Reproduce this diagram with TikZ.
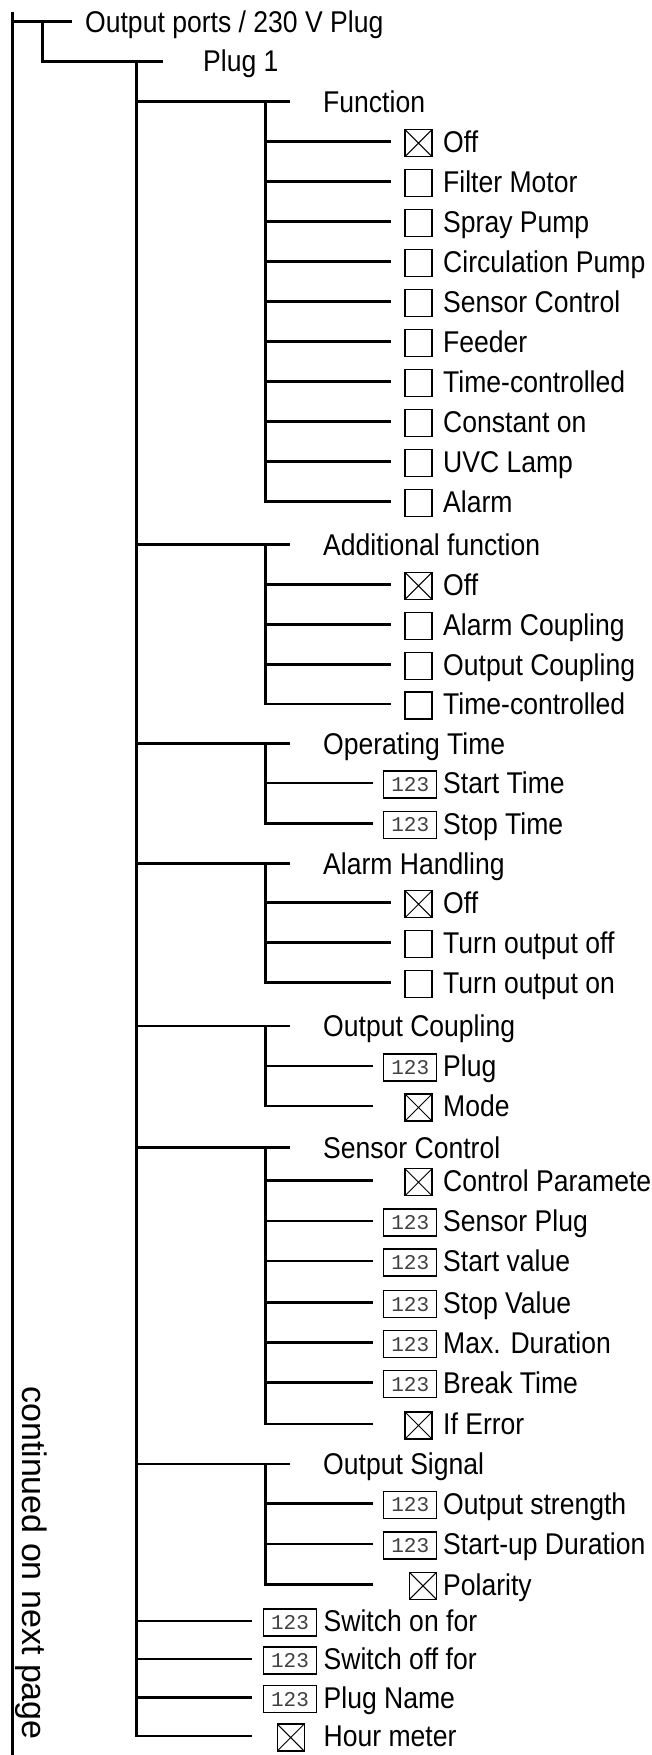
\documentclass[tikz,border=0pt]{standalone}
\usepackage{fontspec}
\setmainfont{Liberation Sans}[FakeStretch=0.885]
\newfontfamily\rotfont{Liberation Sans}
\newfontfamily\numfont{Liberation Mono}
% #1 name, #2 vertical x, #3 y, #4 line end x, #5 box style, #6 box centre x, #7 box text, #8 label x, #9 label
\newcommand\tItem[9]{%
  \coordinate (#1-s) at (#2,#3);
  \coordinate (#1-e) at (#4,#3);
  \draw[tree] (#1-s) -- (#1-e);
  \node[#5] (#1-box) at (#6,#3+1.5) {#7};
  \node[lbl] (#1-t) at (#8,#3+10.8) {#9};
}
% #1 name, #2 y, #3 label
\newcommand\tHdr[3]{%
  \coordinate (#1-s) at (136.7,#2);
  \coordinate (#1-e) at (290,#2);
  \coordinate (#1-j) at (265.7,#2);
  \draw[tree] (#1-s) -- (#1-e);
  \node[lbl] (#1-t) at (323,#2+10.8) {#3};
}
\begin{document}
\begin{tikzpicture}[x=1pt,y=-1pt,
  tree/.style={line width=2.9pt},
  lbl/.style={anchor=base west, inner sep=0pt, font=\fontsize{30}{32}\selectfont},
  cbox/.style={draw, line width=1.1pt, minimum width=27pt, minimum height=27pt, inner sep=0pt, outer sep=0pt},
  xbox/.style={cbox, path picture={\draw[line width=1pt]
      (path picture bounding box.north west) -- (path picture bounding box.south east)
      (path picture bounding box.north east) -- (path picture bounding box.south west);}},
  numbox/.style={draw, line width=1.1pt, minimum width=53pt, minimum height=27pt, inner sep=0pt, outer sep=0pt,
      text=black!75, font=\numfont\fontsize{21}{21}\selectfont},
]
\clip (0,0) rectangle (652,1755);

% level 0 / 1
\coordinate (r0top) at (12.7,11.7);
\coordinate (r0bot) at (12.7,1755);
\coordinate (r0h) at (71.7,21.7);
\draw[tree] (r0top) -- (r0bot);
\draw[tree] (r0top |- r0h) -- (r0h);
\node[lbl] (root) at (85,32.5) {Output ports / 230 V Plug};

\coordinate (p1j) at (42.7,21.7);
\coordinate (p1e) at (163.3,61.7);
\draw[tree] (p1j) |- (p1e);
\node[lbl] (plug1) at (203,71.7) {Plug 1};

% level 2 spine
\coordinate (l2top) at (136.7,61.7);
\coordinate (l2end) at (251.7,1736);
\draw[tree] (l2top) |- (l2end);

% Function
\tHdr{fn}{101.7}{Function}
\tItem{fn1}{265.7}{141.7}{391}{xbox}{418.5}{}{443}{Off}
\tItem{fn2}{265.7}{181.7}{391}{cbox}{418.5}{}{443}{Filter Motor}
\tItem{fn3}{265.7}{221.7}{391}{cbox}{418.5}{}{443}{Spray Pump}
\tItem{fn4}{265.7}{261.7}{391}{cbox}{418.5}{}{443}{Circulation Pump}
\tItem{fn5}{265.7}{301.7}{391}{cbox}{418.5}{}{443}{Sensor Control}
\tItem{fn6}{265.7}{341.7}{391}{cbox}{418.5}{}{443}{Feeder}
\tItem{fn7}{265.7}{381.7}{391}{cbox}{418.5}{}{443}{Time-controlled}
\tItem{fn8}{265.7}{421.7}{391}{cbox}{418.5}{}{443}{Constant on}
\tItem{fn9}{265.7}{461.7}{391}{cbox}{418.5}{}{443}{UVC Lamp}
\tItem{fn10}{265.7}{501.7}{391}{cbox}{418.5}{}{443}{Alarm}
\draw[tree] (fn-j) |- (fn10-e);

% Additional function
\tHdr{af}{544.3}{Additional function}
\tItem{af1}{265.7}{584.3}{391}{xbox}{418.5}{}{443}{Off}
\tItem{af2}{265.7}{624.3}{391}{cbox}{418.5}{}{443}{Alarm Coupling}
\tItem{af3}{265.7}{664.3}{391}{cbox}{418.5}{}{443}{Output Coupling}
\tItem{af4}{265.7}{704}{391}{cbox}{418.5}{}{443}{Time-controlled}
\draw[tree] (af-j) |- (af4-e);

% Operating Time
\tHdr{ot}{743.3}{Operating Time}
\tItem{ot1}{265.7}{783}{373}{numbox}{410.2}{123}{443}{Start Time}
\tItem{ot2}{265.7}{823.3}{373}{numbox}{410.2}{123}{443}{Stop Time}
\draw[tree] (ot-j) |- (ot2-e);

% Alarm Handling
\tHdr{ah}{863.3}{Alarm Handling}
\tItem{ah1}{265.7}{902.7}{391}{xbox}{418.5}{}{443}{Off}
\tItem{ah2}{265.7}{942.3}{391}{cbox}{418.5}{}{443}{Turn output off}
\tItem{ah3}{265.7}{982.7}{391}{cbox}{418.5}{}{443}{Turn output on}
\draw[tree] (ah-j) |- (ah3-e);

% Output Coupling
\tHdr{oc}{1026}{Output Coupling}
\tItem{oc1}{265.7}{1066}{373}{numbox}{410.2}{123}{443}{Plug}
\tItem{oc2}{265.7}{1106}{373}{xbox}{418.5}{}{443}{Mode}
\draw[tree] (oc-j) |- (oc2-e);

% Sensor Control
\tHdr{sc}{1147.7}{Sensor Control}
\tItem{sc1}{265.7}{1180.7}{373}{xbox}{418.5}{}{443}{Control Parameter}
\tItem{sc2}{265.7}{1221}{373}{numbox}{410.2}{123}{443}{Sensor Plug}
\tItem{sc3}{265.7}{1261}{373}{numbox}{410.2}{123}{443}{Start value}
\tItem{sc4}{265.7}{1302.7}{373}{numbox}{410.2}{123}{443}{Stop Value}
\tItem{sc5}{265.7}{1342.7}{373}{numbox}{410.2}{123}{443}{Max. Duration}
\tItem{sc6}{265.7}{1382.7}{373}{numbox}{410.2}{123}{443}{Break Time}
\tItem{sc7}{265.7}{1424}{373}{xbox}{418.5}{}{443}{If Error}
\draw[tree] (sc-j) |- (sc7-e);

% Output Signal
\tHdr{os}{1464}{Output Signal}
\tItem{os1}{265.7}{1503.3}{373}{numbox}{410.2}{123}{443}{Output strength}
\tItem{os2}{265.7}{1544}{373}{numbox}{410.2}{123}{443}{Start-up Duration}
\tItem{os3}{265.7}{1584.3}{373}{xbox}{423}{}{443}{Polarity}
\draw[tree] (os-j) |- (os3-e);

% level 2 direct items
\tItem{sw1}{136.7}{1621}{251.7}{numbox}{290}{123}{323.5}{Switch on for}
\tItem{sw2}{136.7}{1659}{251.7}{numbox}{290}{123}{323.5}{Switch off for}
\tItem{sw3}{136.7}{1697.7}{251.7}{numbox}{290}{123}{323.5}{Plug Name}
\tItem{sw4}{136.7}{1736}{251.7}{xbox}{290.7}{}{323.5}{Hour meter}

% rotated note
\node[rotate=-90, anchor=base west, inner sep=0pt, font=\rotfont\fontsize{34}{36}\selectfont]
  (cont) at (22,1386) {continued on next page};
\end{tikzpicture}
\end{document}
